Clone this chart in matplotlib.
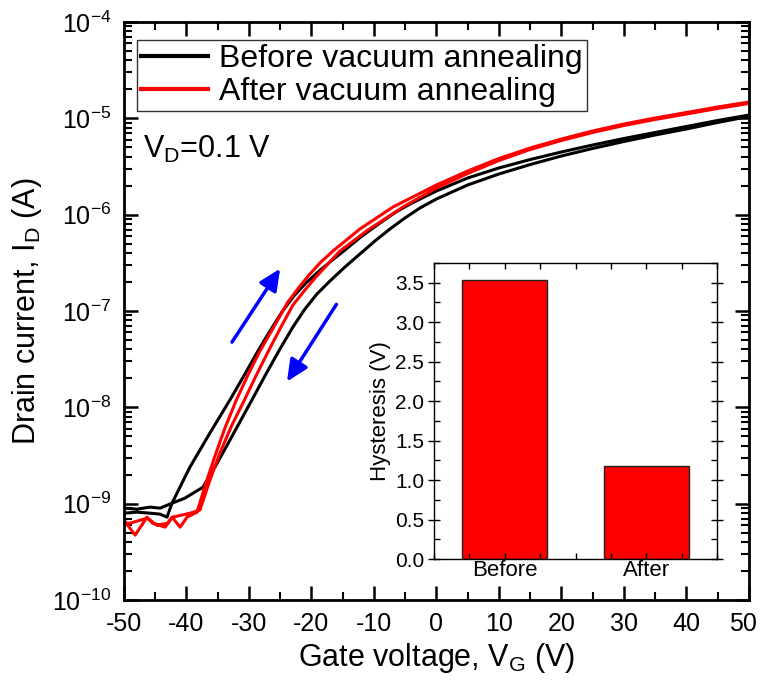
import matplotlib
matplotlib.use("Agg")
import matplotlib.pyplot as plt
from matplotlib.ticker import MultipleLocator, LogLocator, FuncFormatter, NullFormatter, FixedLocator
import matplotlib.transforms as mtransforms
import numpy as np

plt.rcParams['font.family'] = ['Liberation Sans', 'DejaVu Sans']
plt.rcParams['mathtext.fontset'] = 'custom'
plt.rcParams['mathtext.rm'] = 'Liberation Sans'
plt.rcParams['mathtext.it'] = 'Liberation Sans:italic'
plt.rcParams['axes.unicode_minus'] = False

# ---------------- data ----------------
# Before vacuum annealing, forward sweep (VG -50 -> 50)
before_fwd_v = [-50, -47.9, -45.8, -44.2, -43.1, -42.3, -39.44, -36.24, -33.04, -30.64, -28.56,
                -26.64, -24.72, -22.8, -20.88, -18.96, -17.04, -14.64, -11.92, -9.04, -6.48,
                -3.92, 0, 5, 10, 15, 20, 25, 30, 35, 40, 45, 50]
before_fwd_i = [7.96e-10, 8.16e-10, 7.96e-10, 7.78e-10, 7.24e-10, 1.01e-9, 2.39e-9, 5.40e-9,
                1.19e-8, 2.21e-8, 3.83e-8, 6.18e-8, 9.74e-8, 1.43e-7, 1.95e-7, 2.53e-7, 3.22e-7,
                4.29e-7, 5.99e-7, 8.18e-7, 1.064e-6, 1.32e-6, 1.758e-6, 2.40e-6, 3.05e-6,
                3.73e-6, 4.47e-6, 5.28e-6, 6.17e-6, 7.12e-6, 8.22e-6, 9.49e-6, 1.08e-5]
# Before vacuum annealing, reverse sweep (listed from -50 to 50)
before_rev_v = [-50, -47.9, -45.8, -44.2, -42.3, -40.24, -37.36, -35.44, -33.04, -29.52, -27.28,
                -25.04, -22.96, -21.04, -19.12, -17.04, -14.64, -12.24, -9.84, -7.44, -5.04,
                -2.64, 0, 5, 10, 15, 20, 25, 30, 35, 40, 45, 50]
before_rev_i = [8.98e-10, 8.77e-10, 9.20e-10, 8.98e-10, 1.01e-9, 1.14e-9, 1.48e-9, 2.39e-9,
                4.56e-9, 1.19e-8, 2.21e-8, 4.02e-8, 6.81e-8, 1.046e-7, 1.498e-7, 2.044e-7,
                2.857e-7, 3.899e-7, 5.32e-7, 7.09e-7, 9.22e-7, 1.171e-6, 1.452e-6, 2.03e-6,
                2.64e-6, 3.31e-6, 4.06e-6, 4.86e-6, 5.74e-6, 6.71e-6, 7.74e-6, 9.05e-6,
                1.044e-5]
# After vacuum annealing, forward sweep
after_fwd_v = [-50, -48.2, -46.3, -45.4, -43.4, -42.3, -41.0, -39.9, -38.3, -36.88, -35.44,
               -33.84, -32.08, -30.16, -28.24, -25.84, -23.76, -21.84, -20.24, -18.48, -16.56,
               -12.24, -6.96, 0, 5, 10, 15, 20, 25, 30, 35, 40, 45, 50]
after_fwd_i = [6.74e-10, 4.71e-10, 7.24e-10, 6.27e-10, 5.70e-10, 7.24e-10, 5.70e-10, 7.24e-10,
               8.16e-10, 1.63e-9, 3.11e-9, 6.08e-9, 1.16e-8, 2.16e-8, 3.83e-8, 7.14e-8, 1.24e-7,
               1.81e-7, 2.42e-7, 3.22e-7, 4.19e-7, 7.09e-7, 1.199e-6, 2.03e-6, 2.837e-6,
               3.824e-6, 4.914e-6, 6.095e-6, 7.381e-6, 8.726e-6, 1.007e-5, 1.148e-5, 1.31e-5,
               1.476e-5]
# After vacuum annealing, reverse sweep (listed from -50 to 50)
after_rev_v = [-50, -49.0, -46.3, -44.7, -43.0, -42.2, -39.4, -37.84, -36.24, -34.64, -32.72,
               -30.8, -28.88, -26.96, -25.04, -22.96, -21.04, -19.28, -17.36, -15.44, -10.96,
               -5.36, 0, 5, 10, 15, 20, 25, 30, 35, 40, 45, 50]
after_rev_i = [6.27e-10, 6.27e-10, 7.06e-10, 5.98e-10, 6.27e-10, 7.24e-10, 7.96e-10, 8.56e-10,
               1.75e-9, 3.35e-9, 6.53e-9, 1.16e-8, 2.11e-8, 3.74e-8, 6.49e-8, 1.15e-7, 1.65e-7,
               2.25e-7, 3.07e-7, 4.19e-7, 6.92e-7, 1.199e-6, 1.888e-6, 2.672e-6, 3.645e-6,
               4.742e-6, 5.882e-6, 7.12e-6, 8.418e-6, 9.716e-6, 1.108e-5, 1.264e-5, 1.424e-5]

series_labels = ['Before vacuum annealing', 'After vacuum annealing']

# inset bar data
bar_categories = ['Before', 'After']
hysteresis_values = [3.54, 1.18]

# sweep-direction arrows (VG, ID): tail -> head
arrow_up = ((-32.7, 4.75e-8), (-25.0, 2.75e-7))
arrow_down = ((-16.0, 1.17e-7), (-23.9, 1.85e-8))

x_ticks = [-50, -40, -30, -20, -10, 0, 10, 20, 30, 40, 50]
y_ticks = [1e-10, 1e-9, 1e-8, 1e-7, 1e-6, 1e-5, 1e-4]

# ---------------- figure ----------------
fig = plt.figure(figsize=(7.6, 6.86), dpi=100)
ax = fig.add_axes([0.163, 0.1254, 0.8224, 0.8426])

def loop(vf, iff, vr, ir):
    return list(vf) + list(vr[::-1]), list(iff) + list(ir[::-1])

v, i = loop(before_fwd_v, before_fwd_i, before_rev_v, before_rev_i)
ax.plot(v, i, color='black', lw=2.2, label=series_labels[0], solid_joinstyle='round')
v, i = loop(after_fwd_v, after_fwd_i, after_rev_v, after_rev_i)
ax.plot(v, i, color='#ff0000', lw=2.2, label=series_labels[1], solid_joinstyle='round')

ax.set_yscale('log')
ax.set_xlim(-50, 50)
ax.set_ylim(1e-10, 1e-4)
ax.set_xticks(x_ticks)
# last label drawn separately (shifted inward so it stays inside the figure)
ax.set_xticklabels(['%d' % t for t in x_ticks[:-1]] + [''])
ax.xaxis.set_minor_locator(MultipleLocator(5))
ax.yaxis.set_major_locator(FixedLocator(y_ticks))
ax.yaxis.set_minor_locator(FixedLocator(
    [m * d for d in y_ticks[:-1] for m in range(2, 10)]))
ax.yaxis.set_minor_formatter(NullFormatter())
ax.yaxis.set_major_formatter(FuncFormatter(
    lambda val, pos: r'$\mathregular{10^{%d}}$' % int(round(np.log10(val)))))

ax.tick_params(which='major', direction='in', length=10, width=1.8, top=True, right=True,
               labelsize=18, pad=9)
ax.tick_params(which='minor', direction='in', length=5.5, width=1.5, top=True, right=True)
for s in ax.spines.values():
    s.set_linewidth(2.0)

last_tf = ax.get_xaxis_transform() + mtransforms.ScaledTranslation(-6 / 100, -9 / 72,
                                                                   fig.dpi_scale_trans)
ax.text(x_ticks[-1], 0, '%d' % x_ticks[-1], transform=last_tf, fontsize=18,
        ha='center', va='top')

ax.set_xlabel(r'Gate voltage, $\mathregular{V_G}$ (V)', fontsize=22, labelpad=3)
ax.set_ylabel(r'Drain current, $\mathregular{I_D}$ (A)', fontsize=22, labelpad=6)

leg = ax.legend(loc='upper left', bbox_to_anchor=(0.0214, 0.969), fontsize=23, frameon=True,
                fancybox=False, edgecolor='black', borderpad=0.12, labelspacing=0.1,
                handlelength=2.1, handletextpad=0.35, borderaxespad=0)
leg.get_frame().set_linewidth(1.0)
for ln in leg.get_lines():
    ln.set_linewidth(3.0)

ax.text(0.03, 0.765, r'$\mathregular{V_D}$=0.1 V', transform=ax.transAxes, fontsize=22,
        va='baseline', ha='left')

for (tail, head) in (arrow_up, arrow_down):
    ax.annotate('', xy=head, xytext=tail,
                arrowprops=dict(arrowstyle='-|>,head_length=1.3,head_width=0.6',
                                color='#0000ff', lw=2.5, shrinkA=0, shrinkB=0))

# ---------------- inset ----------------
ins = fig.add_axes([0.5711, 0.1851, 0.3724, 0.4315])
ins.bar([1, 2], hysteresis_values, width=0.6, color='#ff0000', edgecolor='#222222', lw=1.0)
ins.set_xlim(0.5, 2.5)
ins.set_ylim(0, 3.75)
ins.set_xticks([1, 2])
ins.set_xticklabels(bar_categories)
ins.xaxis.set_minor_locator(MultipleLocator(0.25))
ins.yaxis.set_major_locator(MultipleLocator(0.5))
ins.yaxis.set_minor_locator(MultipleLocator(0.25))
ins.yaxis.set_major_formatter(FuncFormatter(lambda val, pos: '%.1f' % val))
ins.tick_params(axis='y', which='major', direction='inout', length=8, width=1.0, labelsize=15,
                right=True, pad=3)
ins.tick_params(axis='y', which='minor', direction='in', length=4, width=1.0, right=True)
ins.tick_params(axis='x', which='major', direction='in', length=4, width=1.0, labelsize=16,
                top=True, pad=1)
ins.tick_params(axis='x', which='minor', direction='in', length=4, width=1.0, top=True)
for s in ins.spines.values():
    s.set_linewidth(1.0)
ins.set_ylabel('Hysteresis (V)', fontsize=16, labelpad=3)

fig.savefig('out.png', dpi=100)
